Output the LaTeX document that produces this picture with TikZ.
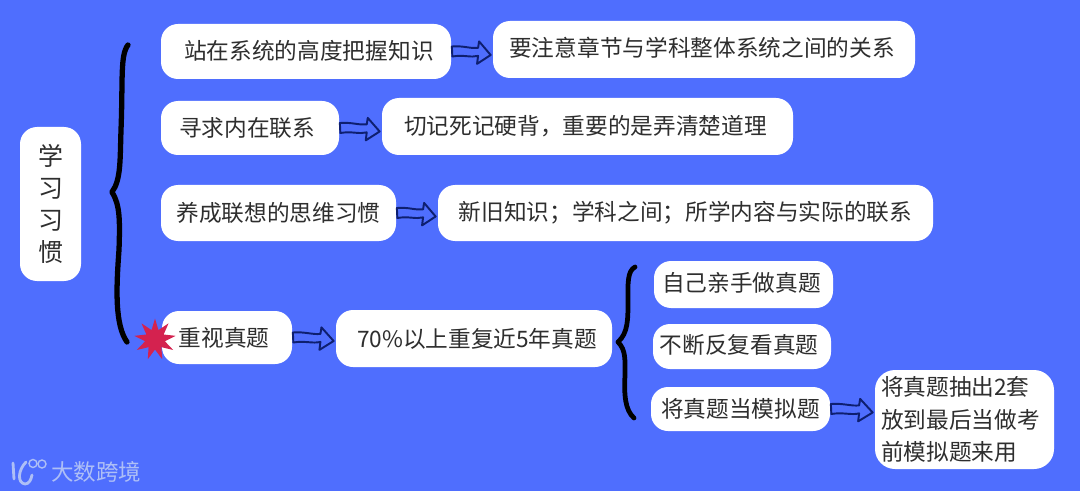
\documentclass[tikz,border=0pt]{standalone}
\usepackage{fontspec}
\setmainfont{Noto Sans CJK SC}
\usetikzlibrary{calc,shapes.geometric}
\definecolor{pagecolor}{HTML}{4F6EFE}
\definecolor{inkcolor}{HTML}{2E2E2E}
\definecolor{arrowcolor}{HTML}{0E1F70}
\definecolor{starcolor}{HTML}{D4224F}
\definecolor{markcolor}{HTML}{AEBFF6}
\tikzset{
  habitbox/.style={fill=white, rounded corners=0.34cm, inner sep=0pt, text=inkcolor,
    font=\fontsize{12.9}{18.4}\selectfont, align=center},
  blockarrow/.style={draw=arrowcolor, line width=1.1pt, line join=round, fill=pagecolor},
  bracestroke/.style={draw=black, line cap=round, line join=round},
}
\newdimen\nudgeunit
\nudgeunit=1.134pt
\newcommand{\nudged}[3]{\kern#1\nudgeunit\raisebox{#2\nudgeunit}{#3}}
\newcommand{\hollowarrow}[2]{%
  \coordinate (s) at (#1.east);
  \coordinate (tip) at ($(#2.west |- #1.east)+(-0.04,-0.07)$);
  \coordinate (base) at ($(s)!0.68!(tip)$);
  \draw[blockarrow] ($(s)+(0.01,0.10)$) .. controls ($(s)+(0.25,0.12)$) and ($(base)+(-0.15,0.10)$) .. ($(base)+(0,0.12)$)
    -- ($(base)+(0.02,0.25)$) -- (tip) -- ($(base)+(-0.02,-0.20)$) -- ($(base)+(0,-0.04)$)
    .. controls ($(base)+(-0.15,-0.08)$) and ($(s)+(0.25,-0.06)$) .. ($(s)+(0.02,-0.10)$) -- cycle;
}
\begin{document}
\begin{tikzpicture}
  \fill[pagecolor] (0,0) rectangle (21.6,-9.82);
  \useasboundingbox (0,0) rectangle (21.6,-9.82);
  % root
  \node[habitbox, font=\fontsize{14.2}{18.2}\selectfont, minimum width=1.22cm, minimum height=3.08cm] (root) at (1.01,-4.08) {学\\习\\习\\惯};
  % first level
  \node[habitbox, minimum width=5.8cm, minimum height=1.1cm] (sys) at (6.12,-1.03) {\nudged{3}{2}{站在系统的高度把握知识}};
  \node[habitbox, minimum width=8.44cm, minimum height=1.14cm] (sysnote) at (14.08,-0.99) {\nudged{-2}{3}{要注意章节与学科整体系统之间的关系}};
  \node[habitbox, minimum width=3.56cm, minimum height=1.08cm] (link) at (5.0,-2.56) {\nudged{-3}{1}{寻求内在联系}};
  \node[habitbox, minimum width=8.22cm, minimum height=1.14cm] (linknote) at (11.75,-2.53) {\nudged{-2}{2}{切记死记硬背，重要的是弄清楚道理}};
  \node[habitbox, minimum width=4.7cm, minimum height=1.12cm] (assoc) at (5.57,-4.26) {\nudged{0}{-3}{养成联想的思维习惯}};
  \node[habitbox, minimum width=9.9cm, minimum height=1.12cm] (assocnote) at (13.71,-4.26) {\nudged{0}{-1}{新旧知识；学科之间；所学内容与实际的联系}};
  \node[habitbox, minimum width=2.6cm, minimum height=1.06cm] (exam) at (4.54,-6.75) {\nudged{-3}{1}{重视真题}};
  \node[habitbox, minimum width=5.52cm, minimum height=1.14cm] (examnote) at (9.48,-6.77) {\nudged{3}{-2}{70\%以上重复近5年真题}};
  % second level
  \node[habitbox, minimum width=3.58cm, minimum height=0.94cm] (self) at (14.87,-5.69) {\nudged{-2}{3}{自己亲手做真题}};
  \node[habitbox, minimum width=3.56cm, minimum height=0.9cm] (again) at (14.84,-6.93) {\nudged{-3}{3}{不断反复看真题}};
  \node[habitbox, minimum width=3.58cm, minimum height=0.88cm] (mock) at (14.81,-8.18) {将真题当模拟题};
  \node[habitbox, minimum width=3.58cm, minimum height=1.98cm, rounded corners=0.4cm, text width=3.34cm, align=left] (last) at (19.29,-8.39) {将真题抽出2套\\放到最后当做考\\前模拟题来用};
  % arrows
  \hollowarrow{sys}{sysnote}
  \hollowarrow{link}{linknote}
  \hollowarrow{assoc}{assocnote}
  \hollowarrow{exam}{examnote}
  \hollowarrow{mock}{last}
  % braces
  \draw[bracestroke, line width=3pt] (2.56,-0.90) .. controls (2.40,-1.10) and (2.46,-1.60) .. (2.42,-2.6)
    .. controls (2.40,-3.2) and (2.42,-3.6) .. (2.24,-3.84) .. controls (2.40,-4.1) and (2.40,-4.4) .. (2.38,-5.0)
    .. controls (2.32,-5.8) and (2.30,-6.5) .. (2.54,-6.84);
  \draw[bracestroke, line width=2.7pt] (12.70,-5.34) .. controls (12.54,-5.42) and (12.56,-5.7) .. (12.56,-6.0)
    .. controls (12.56,-6.4) and (12.56,-6.66) .. (12.36,-6.84) .. controls (12.52,-7.0) and (12.50,-7.2) .. (12.50,-7.5)
    .. controls (12.48,-7.9) and (12.50,-8.2) .. (12.68,-8.36);
  % star
  \node[star, star points=9, star point ratio=2.1, fill=starcolor, minimum size=0.84cm, inner sep=0pt] (burst) at (3.1,-6.79) {};
  % mark
  \node[text=markcolor, font=\fontsize{12.8}{15}\selectfont, anchor=west, inner sep=0pt] (brand) at (1.02,-9.44) {大数跨境};
  \draw[markcolor, line width=1.6pt, line cap=round] (0.26,-9.26) -- (0.28,-9.58);
  \draw[markcolor, line width=1.6pt, line cap=round] (0.52,-9.24) .. controls (0.36,-9.4) and (0.34,-9.66) .. (0.50,-9.68) .. controls (0.58,-9.68) and (0.62,-9.6) .. (0.64,-9.5);
  \draw[markcolor, line width=0.8pt] (0.66,-9.27) circle (0.08);
  \draw[markcolor, line width=0.8pt] (0.84,-9.28) circle (0.08);
\end{tikzpicture}
\end{document}
